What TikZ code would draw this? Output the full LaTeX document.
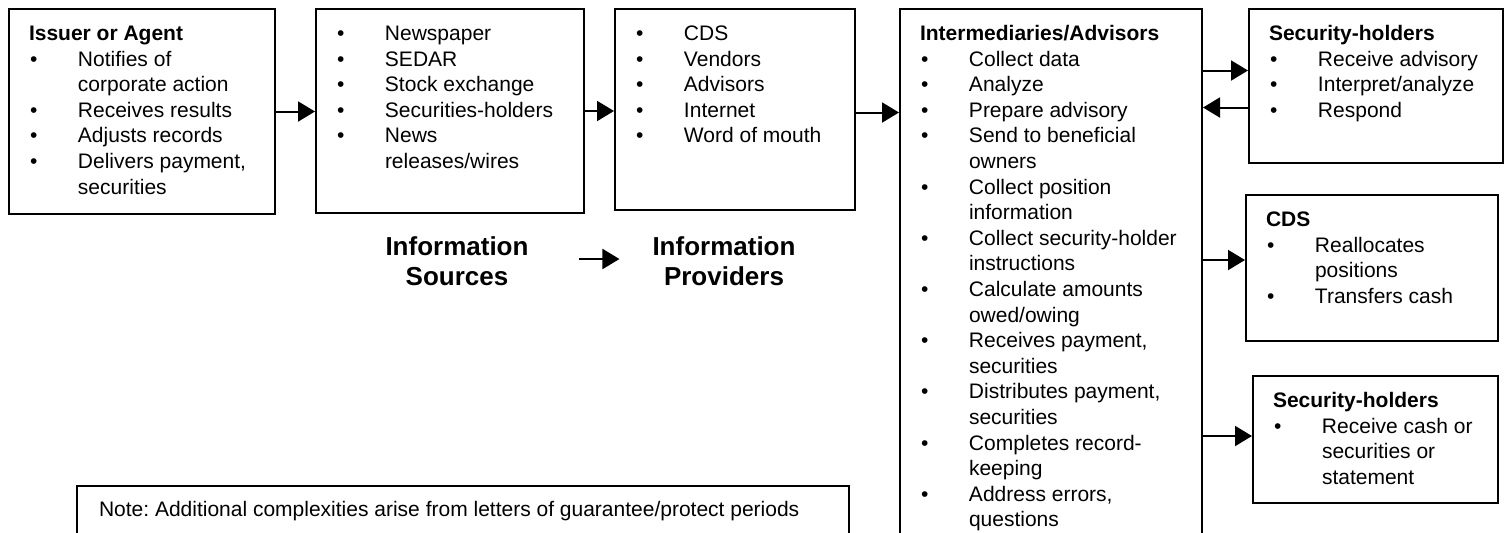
\documentclass[tikz,border=0pt]{standalone}
\usepackage{fontspec}
\setmainfont{Liberation Sans}
\usetikzlibrary{arrows.meta, positioning}
\frenchspacing

\newcommand{\bul}[1]{\par\noindent\hangindent=24.5pt\hangafter=1\makebox[24.5pt][l]{\hspace{0.5pt}\textbullet}#1}
\newcommand{\firstln}{\rule{0pt}{15.75pt}}
\newcommand{\boxtext}[3]{\parbox[t][#2][t]{#1}{#3}}

\begin{document}
\begin{tikzpicture}[
  x=0.5pt, y=-0.5pt,
  box/.style={draw, line width=1pt, anchor=north west, inner xsep=10pt, inner ysep=0pt, font=\fontsize{10.5}{12.8}\selectfont},
  lbl/.style={align=center, font=\fontsize{13}{15}\selectfont\bfseries},
  arr/.style={line width=1pt, -{Triangle[length=8.5pt, width=10pt]}}
]
\useasboundingbox (0,0) rectangle (1505,532);

\node[box] (issuer) at (8,8) {\boxtext{113pt}{102.5pt}{\firstln\textbf{Issuer or Agent}
  \bul{Notifies of\newline corporate action}
  \bul{Receives results}
  \bul{Adjusts records}
  \bul{Delivers payment,\newline securities}}};
\node[box] (sources) at (315,8) {\boxtext{114pt}{102pt}{%
  \bul{\firstln Newspaper}
  \bul{SEDAR}
  \bul{Stock exchange}
  \bul{Securities-holders}
  \bul{News\newline releases/wires}}};
\node[box] (prov) at (614,8) {\boxtext{100pt}{100.5pt}{%
  \bul{\firstln CDS}
  \bul{Vendors}
  \bul{Advisors}
  \bul{Internet}
  \bul{Word of mouth}}};
\node[box] (inter) at (899,8) {\boxtext{131pt}{280pt}{\firstln\textbf{Intermediaries/Advisors}
  \bul{Collect data}
  \bul{Analyze}
  \bul{Prepare advisory}
  \bul{Send to beneficial\newline owners}
  \bul{Collect position\newline information}
  \bul{Collect security-holder\newline instructions}
  \bul{Calculate amounts\newline owed/owing}
  \bul{Receives payment,\newline securities}
  \bul{Distributes payment,\newline securities}
  \bul{Completes record-\newline keeping}
  \bul{Address errors,\newline questions}}};
\node[box] (sec1) at (1248,8) {\boxtext{107pt}{77pt}{\firstln\textbf{Security-holders}
  \bul{Receive advisory}
  \bul{Interpret/analyze}
  \bul{Respond}}};
\node[box] (cds) at (1245,194) {\boxtext{106pt}{73pt}{\firstln\textbf{CDS}
  \bul{Reallocates\newline positions}
  \bul{Transfers cash}}};
\node[box] (sec2) at (1252,375) {\boxtext{102.5pt}{63.5pt}{\firstln\textbf{Security-holders}
  \bul{Receive cash or\newline securities or\newline statement}}};
\node[box, inner xsep=11pt] (note) at (76,485) {\boxtext{364pt}{40pt}{\rule{0pt}{15.25pt}Note: Additional complexities arise from letters of guarantee/protect periods}};

\node[lbl] (srclbl) at (457,261) {Information\\Sources};
\node[lbl] (provlbl) at (724,261) {Information\\Providers};

\draw[arr] (issuer.east) -- (issuer.east -| sources.west);
\draw[arr] (sources.east) -- (sources.east -| prov.west);
\draw[arr] ([yshift=-1.5pt]prov.east) -- ([yshift=-1.5pt]prov.east -| inter.west);
\draw[arr] ([yshift=7.75pt]sec1.west -| inter.east) -- ([yshift=7.75pt]sec1.west);
\draw[arr] ([yshift=-10.75pt]sec1.west) -- ([yshift=-10.75pt]sec1.west -| inter.east);
\draw[arr] ([yshift=4pt]cds.west -| inter.east) -- ([yshift=4pt]cds.west);
\draw[arr] ([yshift=1.75pt]sec2.west -| inter.east) -- ([yshift=1.75pt]sec2.west);
\draw[arr, shorten <=21.5pt, shorten >=13pt] ([yshift=1pt]srclbl.east) -- ([yshift=1pt]provlbl.west);
\end{tikzpicture}
\end{document}
